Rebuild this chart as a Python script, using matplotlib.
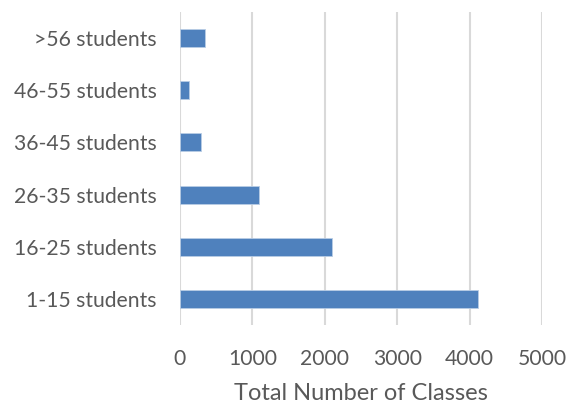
import matplotlib
matplotlib.use("Agg")
import matplotlib.pyplot as plt

categories = ["1-15 students", "16-25 students", "26-35 students",
              "36-45 students", "46-55 students", ">56 students"]
values = [4110, 2100, 1095, 290, 120, 350]
xticks = [0, 1000, 2000, 3000, 4000, 5000]

plt.rcParams['font.family'] = ['Lato', 'DejaVu Sans']
W, H = 575, 404
fig = plt.figure(figsize=(W/100, H/100), dpi=100)
ax = fig.add_axes([180/W, 1-325/H, (542-180)/W, (325-12)/H])

ax.barh(range(len(categories)), values, height=0.345, color="#4F81BD",
        edgecolor="#B9CDE5", linewidth=0.6, zorder=3)
ax.set_xlim(0, 5000)
ax.set_ylim(-0.5, len(categories)-0.5)
ax.set_yticks(range(len(categories)))
ax.set_yticklabels(categories, fontsize=15.2, color="#595959")
ax.set_xticks(xticks)
ax.set_xticklabels([str(t) for t in xticks], fontsize=15.2, color="#595959")
ax.tick_params(axis='both', length=0)
ax.tick_params(axis='y', pad=17)
ax.tick_params(axis='x', pad=17)
ax.grid(axis='x', color="#D9D9D9", linewidth=1.5, zorder=0)
for s in ax.spines.values():
    s.set_visible(False)
ax.set_xlabel("Total Number of Classes", fontsize=17, color="#595959", labelpad=10)

fig.savefig("out.png", dpi=100)
